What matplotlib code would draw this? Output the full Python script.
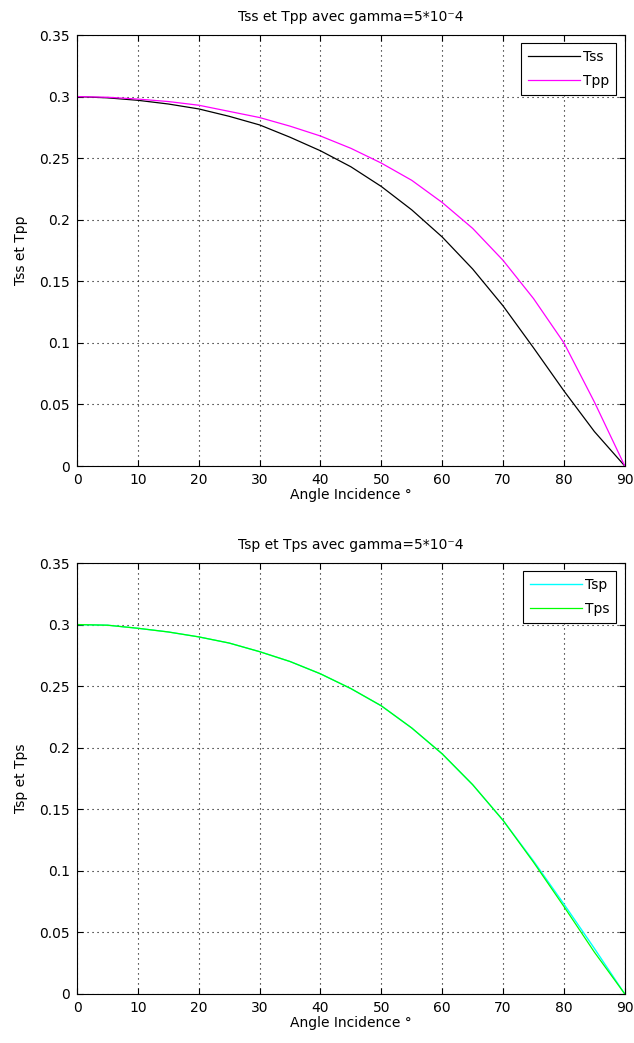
import matplotlib
matplotlib.use("Agg")
import matplotlib.pyplot as plt
from matplotlib.ticker import FuncFormatter

plt.rcParams["font.family"] = ["DejaVu Sans"]

# angles d'incidence (degres)
angles = [0, 5, 10, 15, 20, 25, 30, 35, 40, 45, 50, 55, 60, 65, 70, 75, 80, 85, 90]

tss = [0.300, 0.299, 0.297, 0.294, 0.290, 0.284, 0.277, 0.267, 0.256, 0.243,
       0.227, 0.208, 0.186, 0.160, 0.130, 0.096, 0.061, 0.028, 0.000]
tpp = [0.300, 0.2995, 0.298, 0.296, 0.293, 0.288, 0.283, 0.276, 0.268, 0.258,
       0.246, 0.232, 0.214, 0.193, 0.167, 0.136, 0.100, 0.052, 0.000]
tsp = [0.300, 0.2995, 0.297, 0.294, 0.290, 0.285, 0.278, 0.270, 0.260, 0.248,
       0.234, 0.216, 0.195, 0.170, 0.141, 0.108, 0.073, 0.037, 0.000]
tps = [0.300, 0.2995, 0.297, 0.294, 0.290, 0.285, 0.278, 0.270, 0.260, 0.248,
       0.234, 0.216, 0.195, 0.170, 0.141, 0.107, 0.071, 0.034, 0.000]

xticks = list(range(0, 91, 10))
yticks = [0, 0.05, 0.1, 0.15, 0.2, 0.25, 0.3, 0.35]

fig = plt.figure(figsize=(6.34, 10.43), dpi=100)
ax1 = fig.add_axes([0.1215, 0.5532, 0.864, 0.4132])
ax2 = fig.add_axes([0.1215, 0.0470, 0.864, 0.4132])


def style_axes(ax, title, ylabel):
    ax.set_xlim(0, 90)
    ax.set_ylim(0, 0.35)
    ax.set_xticks(xticks)
    ax.set_yticks(yticks)
    ax.yaxis.set_major_formatter(FuncFormatter(lambda v, p: f"{v:g}"))
    ax.tick_params(direction="in", top=True, right=True, labelsize=10,
                   length=4, width=0.8, pad=5)
    ax.grid(True, linestyle=(0, (1, 3.5)), color="black", linewidth=0.8)
    for s in ax.spines.values():
        s.set_linewidth(0.8)
    ax.set_title(title, fontsize=10, pad=10)
    ax.set_xlabel("Angle Incidence °", fontsize=10, labelpad=1)
    ax.set_ylabel(ylabel, fontsize=10, labelpad=8)
    leg = ax.legend(loc="upper right", fancybox=False, edgecolor="black",
                    framealpha=1, fontsize=10, handlelength=3.7,
                    handletextpad=0.25, labelspacing=0.7, borderpad=0.5,
                    borderaxespad=0.6)
    leg.get_frame().set_linewidth(0.8)


ax1.plot(angles, tss, color="black", lw=0.9, label="Tss")
ax1.plot(angles, tpp, color="#ff00ff", lw=0.9, label="Tpp")
style_axes(ax1, "Tss et Tpp avec gamma=5*10⁻4", "Tss et Tpp")

ax2.plot(angles, tsp, color="#00ffff", lw=1.0, label="Tsp")
ax2.plot(angles, tps, color="#00ff00", lw=0.9, label="Tps")
style_axes(ax2, "Tsp et Tps avec gamma=5*10⁻4", "Tsp et Tps")

plt.savefig("out.png", dpi=100)
